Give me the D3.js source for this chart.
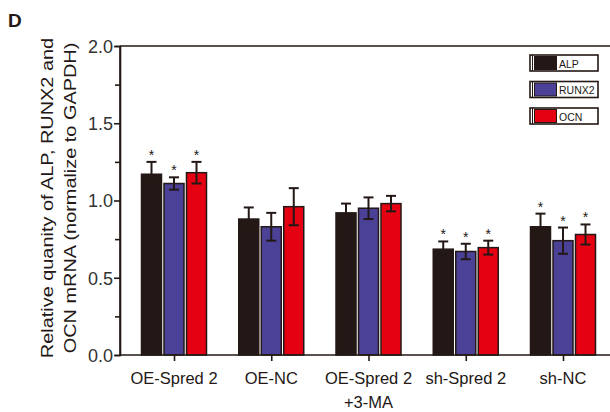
<!DOCTYPE html>
<html>
<head>
<meta charset="utf-8">
<title>Relative quantity chart</title>
<style>
  body { margin: 0; background: #fff; }
  text { font-family: "Liberation Sans", Arial, sans-serif; fill: #231815; }
</style>
</head>
<body>
<div class="plot_container"></div>
<script src="https://cdn.jsdelivr.net/npm/d3@7"></script>
<script>
var groups = ["OE-Spred 2", "OE-NC", "OE-Spred 2\n+3-MA", "sh-Spred 2", "sh-NC"];
var series = ["ALP", "RUNX2", "OCN"];
var colors = ["#231815", "#4b4196", "#e50012"];
var alp   = [1.17, 0.88, 0.92, 0.685, 0.83];
var runx2 = [1.11, 0.83, 0.95, 0.67, 0.74];
var ocn   = [1.18, 0.96, 0.98, 0.695, 0.78];
var alpErr   = [0.08, 0.075, 0.06, 0.05, 0.085];
var runx2Err = [0.04, 0.09, 0.07, 0.05, 0.085];
var ocnErr   = [0.07, 0.12, 0.05, 0.045, 0.065];
var stars = [[1, 1, 1], [0, 0, 0], [0, 0, 0], [1, 1, 1], [1, 1, 1]];
var yTicks = [0, 0.5, 1.0, 1.5, 2.0];
var yMinor = [0.25, 0.75, 1.25, 1.75];

var width = 610, height = 412;
var plotLeft = 120, plotTop = 46, plotBottom = 355, plotRight = 612;

var svg = d3.select(".plot_container").append("svg")
    .attr("width", width)
    .attr("height", height);

var y = d3.scaleLinear().domain([0, 2]).range([plotBottom, plotTop]);
var x = d3.scalePoint().domain(groups).range([174, 563]);

var values = [alp, runx2, ocn];
var errs = [alpErr, runx2Err, ocnErr];
var barW = 20, step = 22.5;

// one record per bar
var data = [];
groups.forEach(function(g, i){
    series.forEach(function(s, j){
        data.push({g: g, i: i, j: j, v: values[j][i], e: errs[j][i], star: stars[i][j]});
    });
});

svg.selectAll(".bar")
    .data(data)
    .enter()
    .append("rect")
    .attr("class", "bar")
    .attr("x", function(d){ return x(d.g) + (d.j - 1) * step - barW / 2; })
    .attr("y", function(d){ return y(d.v); })
    .attr("width", barW)
    .attr("height", function(d){ return plotBottom - y(d.v); })
    .style("fill", function(d){ return colors[d.j]; })
    .style("stroke", "#231815")
    .style("stroke-width", 1.5);

// error bars
var eb = svg.selectAll(".err")
    .data(data)
    .enter()
    .append("g")
    .attr("class", "err")
    .attr("transform", function(d){ return "translate(" + (x(d.g) + (d.j - 1) * step) + ",0)"; })
    .style("stroke", "#231815")
    .style("stroke-width", 2);
eb.append("line")
    .attr("y1", function(d){ return y(d.v + d.e); })
    .attr("y2", function(d){ return y(d.v - d.e); });
eb.append("line")
    .attr("x1", -5).attr("x2", 5)
    .attr("y1", function(d){ return y(d.v + d.e); })
    .attr("y2", function(d){ return y(d.v + d.e); });
eb.append("line")
    .attr("x1", -5).attr("x2", 5)
    .attr("y1", function(d){ return y(d.v - d.e); })
    .attr("y2", function(d){ return y(d.v - d.e); });

svg.selectAll(".star")
    .data(data.filter(function(d){ return d.star; }))
    .enter()
    .append("text")
    .attr("class", "star")
    .attr("x", function(d){ return x(d.g) + (d.j - 1) * step; })
    .attr("y", function(d){ return y(d.v + d.e) - 2; })
    .attr("text-anchor", "middle")
    .style("font-size", "14px")
    .text("*");

// axes
var yAxis = svg.append("g")
    .attr("transform", "translate(" + plotLeft + ",0)")
    .call(d3.axisLeft(y).tickValues(yTicks).tickFormat(d3.format(".1f")).tickSize(6).tickPadding(1));
yAxis.selectAll("text").style("font-size", "18px").style("fill", "#333").attr("dy", "0.35em");
svg.append("g")
    .attr("transform", "translate(" + plotLeft + ",0)")
    .call(d3.axisLeft(y).tickValues(yMinor).tickFormat("").tickSize(5));

var xAxis = svg.append("g")
    .attr("transform", "translate(0," + plotBottom + ")")
    .call(d3.axisBottom(x).tickSize(6).tickFormat(""));
xAxis.select(".domain").attr("d", "M" + plotLeft + ",0H" + plotRight);

svg.selectAll(".domain, .tick line")
    .style("stroke", "#231815")
    .style("stroke-width", 1.6);
yAxis.select(".domain").attr("d", "M0," + plotTop + "V" + plotBottom);

svg.append("line")
    .attr("x1", plotLeft).attr("x2", plotRight)
    .attr("y1", plotTop).attr("y2", plotTop)
    .style("stroke", "#231815")
    .style("stroke-width", 1.6);

// category labels
groups.forEach(function(g){
    var t = svg.append("text")
        .attr("x", x(g))
        .attr("y", 384)
        .attr("text-anchor", "middle")
        .style("font-size", "16.5px");
    g.split("\n").forEach(function(line, k){
        t.append("tspan").attr("x", x(g)).attr("dy", k ? 24 : 0).text(line);
    });
});

// y title, stretched along its length like the original
var yt = svg.append("text")
    .attr("transform", "translate(0,198) rotate(-90) scale(1.17,1)")
    .attr("text-anchor", "middle")
    .style("font-size", "17px");
yt.append("tspan").attr("x", 0).attr("y", 53).text("Relative quanity of ALP, RUNX2 and");
yt.append("tspan").attr("x", 0).attr("y", 76).text("OCN mRNA (normalize to GAPDH)");

svg.append("text")
    .attr("x", 8).attr("y", 27)
    .style("font-size", "19px")
    .style("font-weight", "bold")
    .text("D");

// legend
var lg = svg.selectAll(".legend")
    .data(series)
    .enter()
    .append("g")
    .attr("class", "legend")
    .attr("transform", function(d, i){ return "translate(530," + (55 + i * 26.5) + ")"; });
lg.append("rect")
    .attr("width", 68).attr("height", 16)
    .style("fill", "#fff")
    .style("stroke", "#231815")
    .style("stroke-width", 1.6);
lg.append("line")
    .attr("x1", 2.5).attr("x2", 2.5).attr("y1", 0).attr("y2", 16)
    .style("stroke", "#231815").style("stroke-width", 1);
lg.append("rect")
    .attr("x", 4.5).attr("y", 1.5)
    .attr("width", 22).attr("height", 13)
    .style("fill", function(d, i){ return colors[i]; })
    .style("stroke", "#231815")
    .style("stroke-width", 1);
lg.append("text")
    .attr("x", 29).attr("y", 12.5)
    .style("font-size", "10.5px")
    .text(function(d){ return d; });
</script>
</body>
</html>
